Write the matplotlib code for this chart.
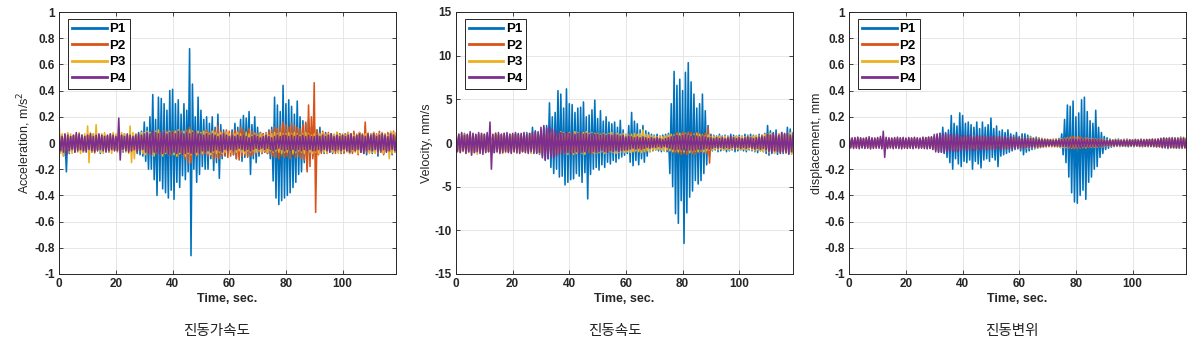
import numpy as np
import matplotlib
matplotlib.use("Agg")
import matplotlib.pyplot as plt

plt.rcParams['font.family'] = ['Liberation Sans', 'Noto Sans CJK KR']

# Per-second envelope (t = 0..119 s).
# hi = upward peak, lo = downward peak magnitude.
# acceleration in 0.01 m/s^2, velocity in 0.1 mm/s, displacement in 0.001 mm
acc_p1_hi = """5 6 4 7 5 6 4 5 6 5  6 5 7 4 6 5 6 5 4 6  5 6 5 7 5 6 5 7 8 9
16 12 20 37 18 35 34 30 25 40  41 30 33 22 30 25 72 45 20 35  25 18 20 15 20 12 22 14 10 8
6 10 15 12 18 21 19 24 14 20  12 8 7 6 10 12 35 29 24 44  30 33 28 22 32 20 17 15 18 12
14 10 12 7 8 6 7 6 8 7  6 7 8 6 7 5 8 6 7 6  7 8 6 7 8 6 7 8 7 6"""
acc_p1_lo = """6 10 22 8 6 7 5 6 7 5  6 7 6 5 8 6 5 7 6 5  6 5 7 6 5 7 6 8 9 10
14 20 20 28 40 29 35 38 42 36  43 30 34 25 28 22 86 20 30 24  18 20 20 12 21 15 27 12 10 8
7 9 12 10 14 11 10 24 12 15  10 8 7 8 12 29 42 47 44 42  40 38 34 30 24 22 15 20 12 10
9 8 7 8 6 7 8 6 7 8  7 6 8 7 6 8 7 6 9 7  8 6 10 7 8 6 7 9 7 6"""
acc_p2_hi = """5 4 6 5 4 5 6 5 4 5  5 6 4 5 5 6 4 5 6 5  4 5 6 5 6 5 5 6 5 6
7 6 8 7 8 9 7 8 9 8  9 8 10 9 8 10 12 9 8 9  8 9 10 8 9 10 13 9 8 10
9 8 10 9 12 10 9 11 9 8  7 8 7 8 9 10 12 11 13 16  14 12 15 13 12 11 14 16 29 20
46 10 8 9 7 8 7 6 8 7  6 7 8 7 9 6 8 7 16 7  6 8 7 9 6 7 8 7 9 8"""
acc_p2_lo = """5 6 5 4 6 5 4 5 6 5  4 5 6 5 4 5 6 5 4 5  5 6 5 4 6 5 6 5 6 7
7 8 7 9 8 7 9 8 7 9  8 10 9 8 12 15 15 9 10 8  9 8 10 9 13 11 12 10 9 11
10 9 12 13 10 9 11 10 9 8  7 8 7 8 9 10 11 12 10 11  10 12 9 11 10 12 13 22 18 12
53 9 8 7 8 6 7 8 6 7  8 6 7 8 6 9 7 8 7 6  7 6 8 7 9 6 7 8 6 7"""
acc_p3_hi = """12 7 6 8 7 6 7 8 6 7  13 8 7 14 6 7 8 6 7 8  7 6 8 7 6 13 8 7 6 8
8 9 8 7 9 10 8 9 8 9  8 9 10 8 9 8 10 9 8 9  8 9 8 7 9 8 7 8 7 8
7 6 7 8 7 6 8 7 6 7  6 7 6 7 6 7 8 7 8 7  7 8 7 8 7 6 7 8 7 6
7 6 7 8 6 7 6 7 8 6  7 6 8 7 6 7 8 6 7 8  7 8 6 7 8 7 6 9 8 7"""
acc_p3_lo = """8 10 6 7 8 6 7 8 7 6  15 7 8 6 7 8 6 7 8 6  7 8 6 7 8 15 12 7 6 8
9 8 9 10 8 9 10 8 9 8  9 10 8 9 10 8 9 8 9 8  8 7 8 9 7 8 7 8 7 6
7 6 7 6 7 8 6 7 6 7  6 7 6 7 6 7 6 7 8 7  7 6 8 7 6 7 8 6 7 8
7 8 6 7 8 6 7 6 8 7  6 7 8 6 7 8 6 7 6 8  7 8 7 6 8 7 12 8 7 6"""
acc_p4_hi = """6 5 7 6 5 6 8 7 6 5  6 7 5 6 7 6 5 6 7 6  5 19 6 5 7 6 5 6 7 6
7 8 7 9 8 7 8 9 7 8  8 7 9 8 7 8 7 8 9 7  7 6 7 6 7 6 5 6 7 6
5 6 5 6 5 6 5 4 5 6  5 4 5 6 5 4 5 6 5 6  6 5 6 5 6 5 6 5 6 5
5 6 5 6 5 6 7 5 6 5  6 5 6 7 5 6 7 6 5 7  6 7 5 6 7 6 5 7 6 5"""
acc_p4_lo = """6 7 9 6 5 7 6 5 6 7  5 6 7 6 5 6 7 6 5 6  6 13 5 6 7 6 5 7 6 5
7 8 9 7 8 9 8 7 9 8  7 8 7 9 8 7 8 9 7 8  6 7 6 7 6 5 6 7 5 6
5 6 5 4 5 6 5 6 5 4  5 4 5 4 5 6 5 4 5 6  5 6 5 6 5 6 5 6 5 6
6 5 6 5 6 7 5 6 5 6  5 6 7 5 6 5 7 8 6 5  6 5 7 6 5 7 6 5 6 7"""

vel_p1_hi = """9 10 8 11 9 10 8 9 10 9  10 9 11 8 10 9 10 11 9 10  9 10 11 9 10 12 11 18 14 13
15 18 20 46 30 35 60 56 40 62  45 44 35 40 41 47 30 32 38 49  28 37 25 30 24 22 24 18 26 15
10 20 35 25 22 15 20 14 12 10  9 10 8 9 10 11 45 82 66 73  60 81 92 70 56 40 45 56 37 20
10 9 8 10 8 9 8 10 9 8  9 8 10 9 10 9 8 10 9 11  20 14 12 15 10 12 11 18 16 12"""
vel_p1_lo = """9 10 9 8 10 9 11 9 10 8  9 10 8 11 9 10 9 8 10 9  10 9 8 10 9 10 11 12 11 13
15 20 18 28 35 30 39 38 48 45  42 41 35 38 45 34 64 36 30 28  31 25 28 22 24 20 22 18 16 14
12 22 26 20 25 18 22 15 10 9  8 9 10 9 10 35 50 81 92 66  115 80 62 55 43 47 43 35 25 15
9 8 10 9 8 10 9 8 10 9  8 9 10 8 9 10 11 9 10 12  14 12 11 13 10 12 11 13 12 10"""
vel_p2_hi = """8 9 7 8 9 8 7 9 8 7  8 7 9 8 7 9 8 7 8 9  8 9 7 8 9 8 7 9 8 10
11 12 10 11 12 10 11 12 10 11  10 11 12 10 11 10 12 11 10 11  10 9 11 10 9 10 9 10 9 8
8 9 8 9 8 9 10 9 8 7  6 7 6 7 6 8 9 10 12 11  12 11 13 12 11 12 11 10 11 18
8 7 6 7 6 7 6 7 6 7  6 7 6 7 6 7 8 7 8 9  10 9 8 10 9 8 10 9 8 9"""
vel_p2_lo = """8 7 9 8 7 8 9 7 8 9  7 8 9 7 8 9 8 7 9 8  9 8 7 9 8 7 9 8 9 10
11 10 12 11 10 12 11 10 12 11  10 12 11 10 12 11 10 11 12 10  9 10 9 10 9 8 9 10 9 8
9 8 9 10 9 10 9 8 7 8  7 6 7 6 7 8 10 11 12 13  12 13 11 12 13 11 10 11 12 23
7 6 7 6 7 6 7 6 7 6  7 6 7 6 7 8 7 8 7 8  9 10 9 8 10 9 8 9 10 9"""
vel_p3_hi = """10 9 11 10 9 10 11 9 10 11  9 10 11 10 12 9 10 11 10 9  10 11 9 10 11 10 9 11 10 12
12 13 11 12 13 12 11 13 12 11  12 11 13 12 11 12 13 11 12 11  11 10 11 10 11 12 10 11 10 11
10 9 10 11 10 11 15 10 9 8  8 7 8 7 8 9 10 9 10 11  10 11 10 9 10 11 10 9 8 9
7 8 7 8 7 8 7 6 7 8  7 8 7 8 7 8 9 8 9 10  10 11 10 9 11 10 9 11 12 10"""
vel_p3_lo = """10 11 10 12 11 13 10 13 11 10  11 10 12 10 11 10 12 11 10 11  10 12 11 10 11 10 12 11 10 12
12 11 13 12 11 13 12 11 12 13  11 13 12 11 12 13 11 12 11 12  11 10 12 11 10 11 12 11 10 11
10 11 10 9 10 11 10 9 10 8  8 7 8 9 8 9 10 9 10 9  10 9 11 10 9 10 9 10 9 8
8 7 8 7 8 7 8 7 6 7  8 7 8 7 8 9 8 9 10 9  11 10 12 10 11 10 12 11 13 10"""
vel_p4_hi = """11 10 12 9 10 13 11 10 12 11  10 12 24 10 11 12 10 11 12 10  11 12 10 11 12 10 11 12 13 12
18 20 17 19 16 14 13 12 11 12  11 12 10 11 12 10 11 10 11 10  10 9 10 9 10 9 10 9 8 9
7 8 7 6 7 6 7 6 5 6  5 6 5 4 5 6 7 8 9 8  9 10 9 8 9 8 7 8 7 6
6 5 6 5 6 5 6 7 6 5  6 5 6 7 6 5 6 7 8 7  10 9 11 10 9 12 10 11 9 10"""
vel_p4_lo = """10 11 9 12 10 14 11 10 12 13  11 10 30 11 10 12 11 10 11 12  10 11 12 10 11 12 10 11 12 11
17 19 18 16 17 15 13 12 12 11  12 11 10 12 11 10 11 12 10 11  10 9 10 11 9 10 9 10 9 8
8 7 6 7 6 7 6 5 6 5  5 4 5 4 5 6 7 8 7 8  8 9 8 9 8 7 8 7 6 7
6 5 6 5 6 5 6 5 6 5  6 5 6 5 6 7 6 7 6 8  10 11 9 10 12 10 11 12 10 9"""

dis_p1_hi = """30 35 28 32 30 34 29 31 33 30  32 30 35 31 29 33 30 32 34 31  30 33 31 29 32 30 34 40 45 42
50 60 70 120 80 100 210 150 130 230  210 150 160 140 120 160 110 160 120 140  190 110 130 90 100 80 100 70 60 80
50 70 70 60 50 40 45 40 35 30  28 25 28 30 35 70 180 290 280 320  200 230 330 350 240 170 150 250 120 80
50 40 30 25 28 30 25 28 30 26  25 28 26 30 27 25 28 30 27 29  35 40 38 36 42 38 40 45 38 35"""
dis_p1_lo = """30 28 32 30 34 29 31 30 28 32  30 34 35 30 28 32 30 33 31 29  32 30 28 33 31 30 32 38 40 45
55 65 70 80 110 150 200 120 160 180  140 150 130 200 140 160 190 130 120 140  110 130 180 100 90 80 70 60 50 45
60 90 70 60 50 45 40 35 30 28  25 28 25 30 35 90 150 260 380 450  460 400 360 430 300 260 200 180 110 80
50 40 32 28 26 28 25 27 29 26  28 25 27 29 26 28 25 27 30 28  35 38 42 36 40 38 42 40 37 35"""
dis_p2_hi = """25 22 28 24 26 23 27 25 22 26  24 26 23 27 25 22 26 24 28 25  23 26 24 27 25 23 26 28 30 32
35 38 36 40 37 35 38 36 34 37  35 33 36 34 32 35 33 31 34 32  30 32 29 31 28 30 27 29 26 28
25 27 24 26 25 23 25 22 24 21  20 22 21 23 24 28 35 42 48 50  45 48 42 40 38 35 36 32 30 28
22 20 21 19 20 18 20 19 21 20  19 21 20 22 20 23 21 22 24 25  27 30 28 29 31 28 30 32 29 27"""
dis_p2_lo = """24 26 23 27 25 22 26 24 25 23  26 24 27 25 23 26 24 22 25 27  25 23 26 24 27 25 23 26 29 31
36 37 35 39 38 36 37 35 36 34  34 35 33 32 35 33 34 32 30 33  31 29 30 28 31 29 28 27 28 26
26 25 27 24 25 23 24 22 23 21  21 20 22 24 25 27 33 40 42 44  42 40 38 41 36 34 32 30 28 26
21 20 19 21 20 19 20 21 19 20  20 19 21 20 22 21 23 22 24 23  26 28 30 27 29 30 28 31 30 28"""
dis_p3_hi = """35 38 33 40 36 34 38 35 33 37  36 42 34 38 35 37 33 36 38 35  34 37 35 38 36 34 37 40 42 45
50 48 52 47 50 55 48 46 52 49  47 50 45 48 52 46 49 47 50 45  46 44 47 43 45 42 44 41 43 40
38 40 37 39 45 38 36 40 35 33  30 28 30 32 30 33 35 38 36 34  36 34 35 33 35 32 30 31 29 28
25 24 26 25 23 25 24 26 25 24  25 27 26 28 27 29 28 30 32 31  35 38 36 40 37 39 38 41 45 40"""
dis_p3_lo = """34 36 35 38 34 37 35 40 36 34  37 35 40 36 38 34 37 35 36 38  36 34 38 35 37 36 34 38 40 44
48 52 47 50 49 46 51 48 50 52  49 46 50 47 45 52 48 46 47 49  44 46 43 45 42 44 41 43 40 42
39 37 40 38 36 39 37 35 34 32  30 29 31 30 32 34 36 35 37 35  34 36 33 35 32 33 31 30 28 29
24 25 23 26 24 25 23 24 26 25  26 25 27 26 28 27 29 28 30 32  36 34 38 37 40 36 38 42 40 38"""
dis_p4_hi = """40 38 42 45 40 36 42 48 40 38  42 50 90 44 40 38 42 45 40 43  38 42 40 44 40 38 45 42 44 48
65 70 75 68 72 66 70 62 65 60  58 55 60 56 52 58 55 50 54 52  50 52 48 50 46 48 45 47 44 42
40 38 40 36 35 33 32 30 28 26  25 24 22 24 25 28 30 32 30 33  32 30 33 31 30 29 28 27 26 25
22 21 23 20 22 21 20 22 21 23  22 24 23 25 24 26 25 28 27 30  34 36 33 38 35 37 34 36 38 35"""
dis_p4_lo = """38 42 40 44 38 42 40 46 42 40  40 45 110 42 38 44 40 42 45 40  42 40 44 38 42 40 43 45 42 50
68 72 70 75 66 70 64 68 62 60  56 58 54 57 55 52 56 50 53 50  48 50 47 49 45 47 44 46 42 40
38 40 36 35 33 32 31 29 27 25  24 22 24 23 25 27 29 31 32 30  31 33 30 29 30 28 27 26 25 24
21 22 20 22 21 20 22 21 23 22  23 22 24 23 25 24 26 27 28 29  35 33 37 36 34 38 35 37 36 34"""

series_names = ['P1', 'P2', 'P3', 'P4']
colors = ['#0072BD', '#D95319', '#EDB120', '#7E2F8E']

panels = [
    dict(data=[(acc_p1_hi, acc_p1_lo), (acc_p2_hi, acc_p2_lo), (acc_p3_hi, acc_p3_lo), (acc_p4_hi, acc_p4_lo)],
         scale=0.01, ylim=(-1, 1), yticks=np.arange(-1, 1.01, 0.2),
         ylabel='Acceleration, m/s$^2$', caption='진동가속도', left=59.3, cap_x=216),
    dict(data=[(vel_p1_hi, vel_p1_lo), (vel_p2_hi, vel_p2_lo), (vel_p3_hi, vel_p3_lo), (vel_p4_hi, vel_p4_lo)],
         scale=0.1, ylim=(-15, 15), yticks=np.arange(-15, 16, 5),
         ylabel='Velocity, mm/s', caption='진동속도', left=456, cap_x=615),
    dict(data=[(dis_p1_hi, dis_p1_lo), (dis_p2_hi, dis_p2_lo), (dis_p3_hi, dis_p3_lo), (dis_p4_hi, dis_p4_lo)],
         scale=0.001, ylim=(-1, 1), yticks=np.arange(-1, 1.01, 0.2),
         ylabel='displacement, mm', caption='진동변위', left=849.3, cap_x=1012),
]

W, H = 1200, 345
fig = plt.figure(figsize=(W / 100, H / 100), dpi=100)

sec = np.arange(120)
t = np.column_stack([sec, sec + 0.5]).ravel()


def tick_fmt(v):
    s = f"{v:.1f}".rstrip('0').rstrip('.')
    return '0' if s in ('-0', '0') else s


for p in panels:
    ax = fig.add_axes([p['left'] / W, (H - 274) / H, 336.5 / W, 262 / H])
    for (hs, ls), name, c in zip(p['data'], series_names, colors):
        hi = np.array(hs.split(), dtype=float)
        lo = np.array(ls.split(), dtype=float)
        y = np.column_stack([hi, -lo]).ravel() * p['scale']
        ax.plot(t, y, color=c, lw=1.15, label=name)
    ax.set_xlim(0, 118.8)
    ax.set_ylim(*p['ylim'])
    ax.set_xticks([0, 20, 40, 60, 80, 100])
    ax.set_yticks(p['yticks'])
    ax.set_yticklabels([tick_fmt(v) for v in p['yticks']])
    ax.grid(True, color='#e3e3e3', lw=0.6)
    ax.set_axisbelow(True)
    ax.tick_params(direction='in', length=3, width=0.6, top=True, right=True,
                   labelsize=8.5, colors='#262626', pad=3)
    for lab in ax.get_xticklabels() + ax.get_yticklabels():
        lab.set_fontweight('bold')
    for s in ax.spines.values():
        s.set_color('#262626')
        s.set_linewidth(0.7)
    ax.set_xlabel('Time, sec.', fontsize=9, fontweight='bold', color='#262626', labelpad=2)
    ax.set_ylabel(p['ylabel'], fontsize=9, color='#262626', labelpad=1)
    leg = ax.legend(loc='upper left', bbox_to_anchor=(0.027, 0.973),
                    prop={'weight': 'bold', 'size': 9.5}, fancybox=False, edgecolor='#262626',
                    handlelength=2.6, handletextpad=0.2, borderpad=0.3, labelspacing=0.32,
                    borderaxespad=0.0, framealpha=1)
    leg.get_frame().set_linewidth(0.7)
    for ln in leg.get_lines():
        ln.set_linewidth(2.0)
    fig.text(p['cap_x'] / W, (H - 331) / H, p['caption'], ha='center', va='center',
             fontsize=10.5, family=['Noto Sans CJK KR'], color='#222222')

fig.savefig('out.png', dpi=100)
